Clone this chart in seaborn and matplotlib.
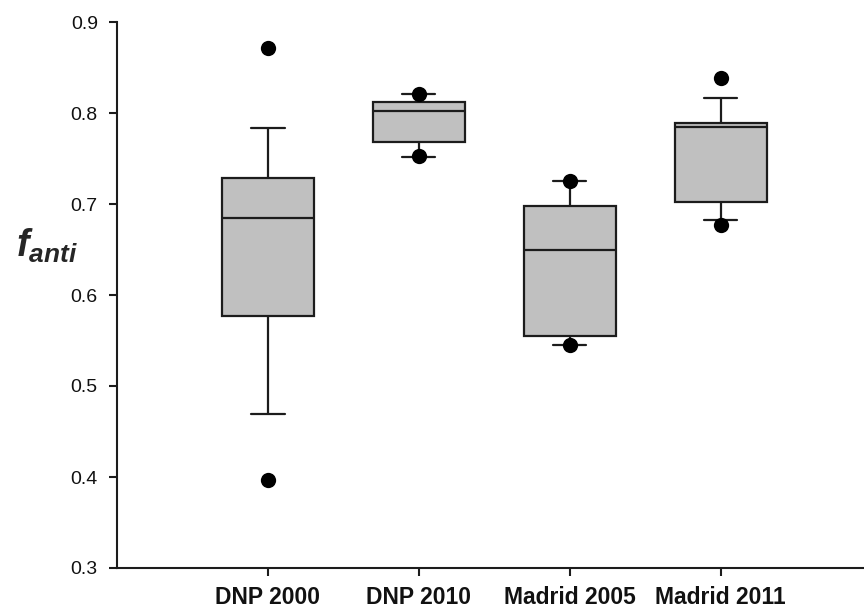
import numpy as np
import pandas as pd
import matplotlib
matplotlib.use("Agg")
import matplotlib.pyplot as plt
import seaborn as sns

categories = ["DNP 2000", "DNP 2010", "Madrid 2005", "Madrid 2011"]
whisker_low = [0.469, 0.752, 0.545, 0.682]
q1 = [0.577, 0.768, 0.555, 0.702]
median = [0.685, 0.802, 0.650, 0.785]
q3 = [0.729, 0.812, 0.698, 0.789]
whisker_high = [0.784, 0.821, 0.725, 0.817]

point_cats = ["DNP 2000", "DNP 2000", "DNP 2010", "DNP 2010",
              "Madrid 2005", "Madrid 2005", "Madrid 2011", "Madrid 2011"]
point_vals = [0.871, 0.397, 0.821, 0.753, 0.725, 0.545, 0.838, 0.677]

yticks = [0.3, 0.4, 0.5, 0.6, 0.7, 0.8, 0.9]

rows = []
for i, c in enumerate(categories):
    for v in (whisker_low[i], q1[i], median[i], q3[i], whisker_high[i]):
        rows.append({"group": c, "value": v})
box_df = pd.DataFrame(rows)
pts_df = pd.DataFrame({"group": point_cats, "value": point_vals})

sns.set_style("ticks")
plt.rcParams["font.family"] = ["Liberation Sans", "DejaVu Sans"]
plt.rcParams["mathtext.fontset"] = "custom"
plt.rcParams["mathtext.bfit"] = "Liberation Sans:italic:bold"
plt.rcParams["mathtext.bf"] = "Liberation Sans:bold"
plt.rcParams["mathtext.it"] = "Liberation Sans:italic"
plt.rcParams["mathtext.rm"] = "Liberation Sans"

fig = plt.figure(figsize=(8.64, 6.11), dpi=100)
ax = fig.add_axes([117 / 864, 1 - 568 / 611, 1 - 117 / 864, (568 - 22) / 611])

line_c = "#1c1c1c"
sns.boxplot(data=box_df, x="group", y="value", order=categories,
            whis=(0, 100), width=0.61, color="#c0c0c0", saturation=1,
            linecolor=line_c, linewidth=1.6, showfliers=False,
            capwidths=0.22, ax=ax)
sns.stripplot(data=pts_df, x="group", y="value", order=categories,
              jitter=False, color="black", size=11, zorder=5, ax=ax)

ax.set_ylim(0.3, 0.9)
ax.set_xlim(-1, 3.95)
ax.set_yticks(yticks)
ax.set_yticklabels([f"{t:.1f}" for t in yticks], fontsize=14)
ax.set_xticks(range(len(categories)))
ax.set_xticklabels(categories, fontsize=16.5, fontweight="bold")
ax.set_xlabel("")
ax.set_ylabel(r"$\mathbfit{f}_{\mathbfit{anti}}$", rotation=0, fontsize=27,
              labelpad=0)
ax.yaxis.set_label_coords(-0.094, 0.555)

for s in ["top", "right"]:
    ax.spines[s].set_visible(False)
for s in ["left", "bottom"]:
    ax.spines[s].set_linewidth(1.5)
    ax.spines[s].set_color(line_c)
ax.tick_params(axis="both", direction="out", length=5.8, width=1.5,
               color=line_c, labelcolor="#111111")
ax.tick_params(axis="y", pad=8)
ax.tick_params(axis="x", pad=7)

fig.savefig("out.png", dpi=100)
